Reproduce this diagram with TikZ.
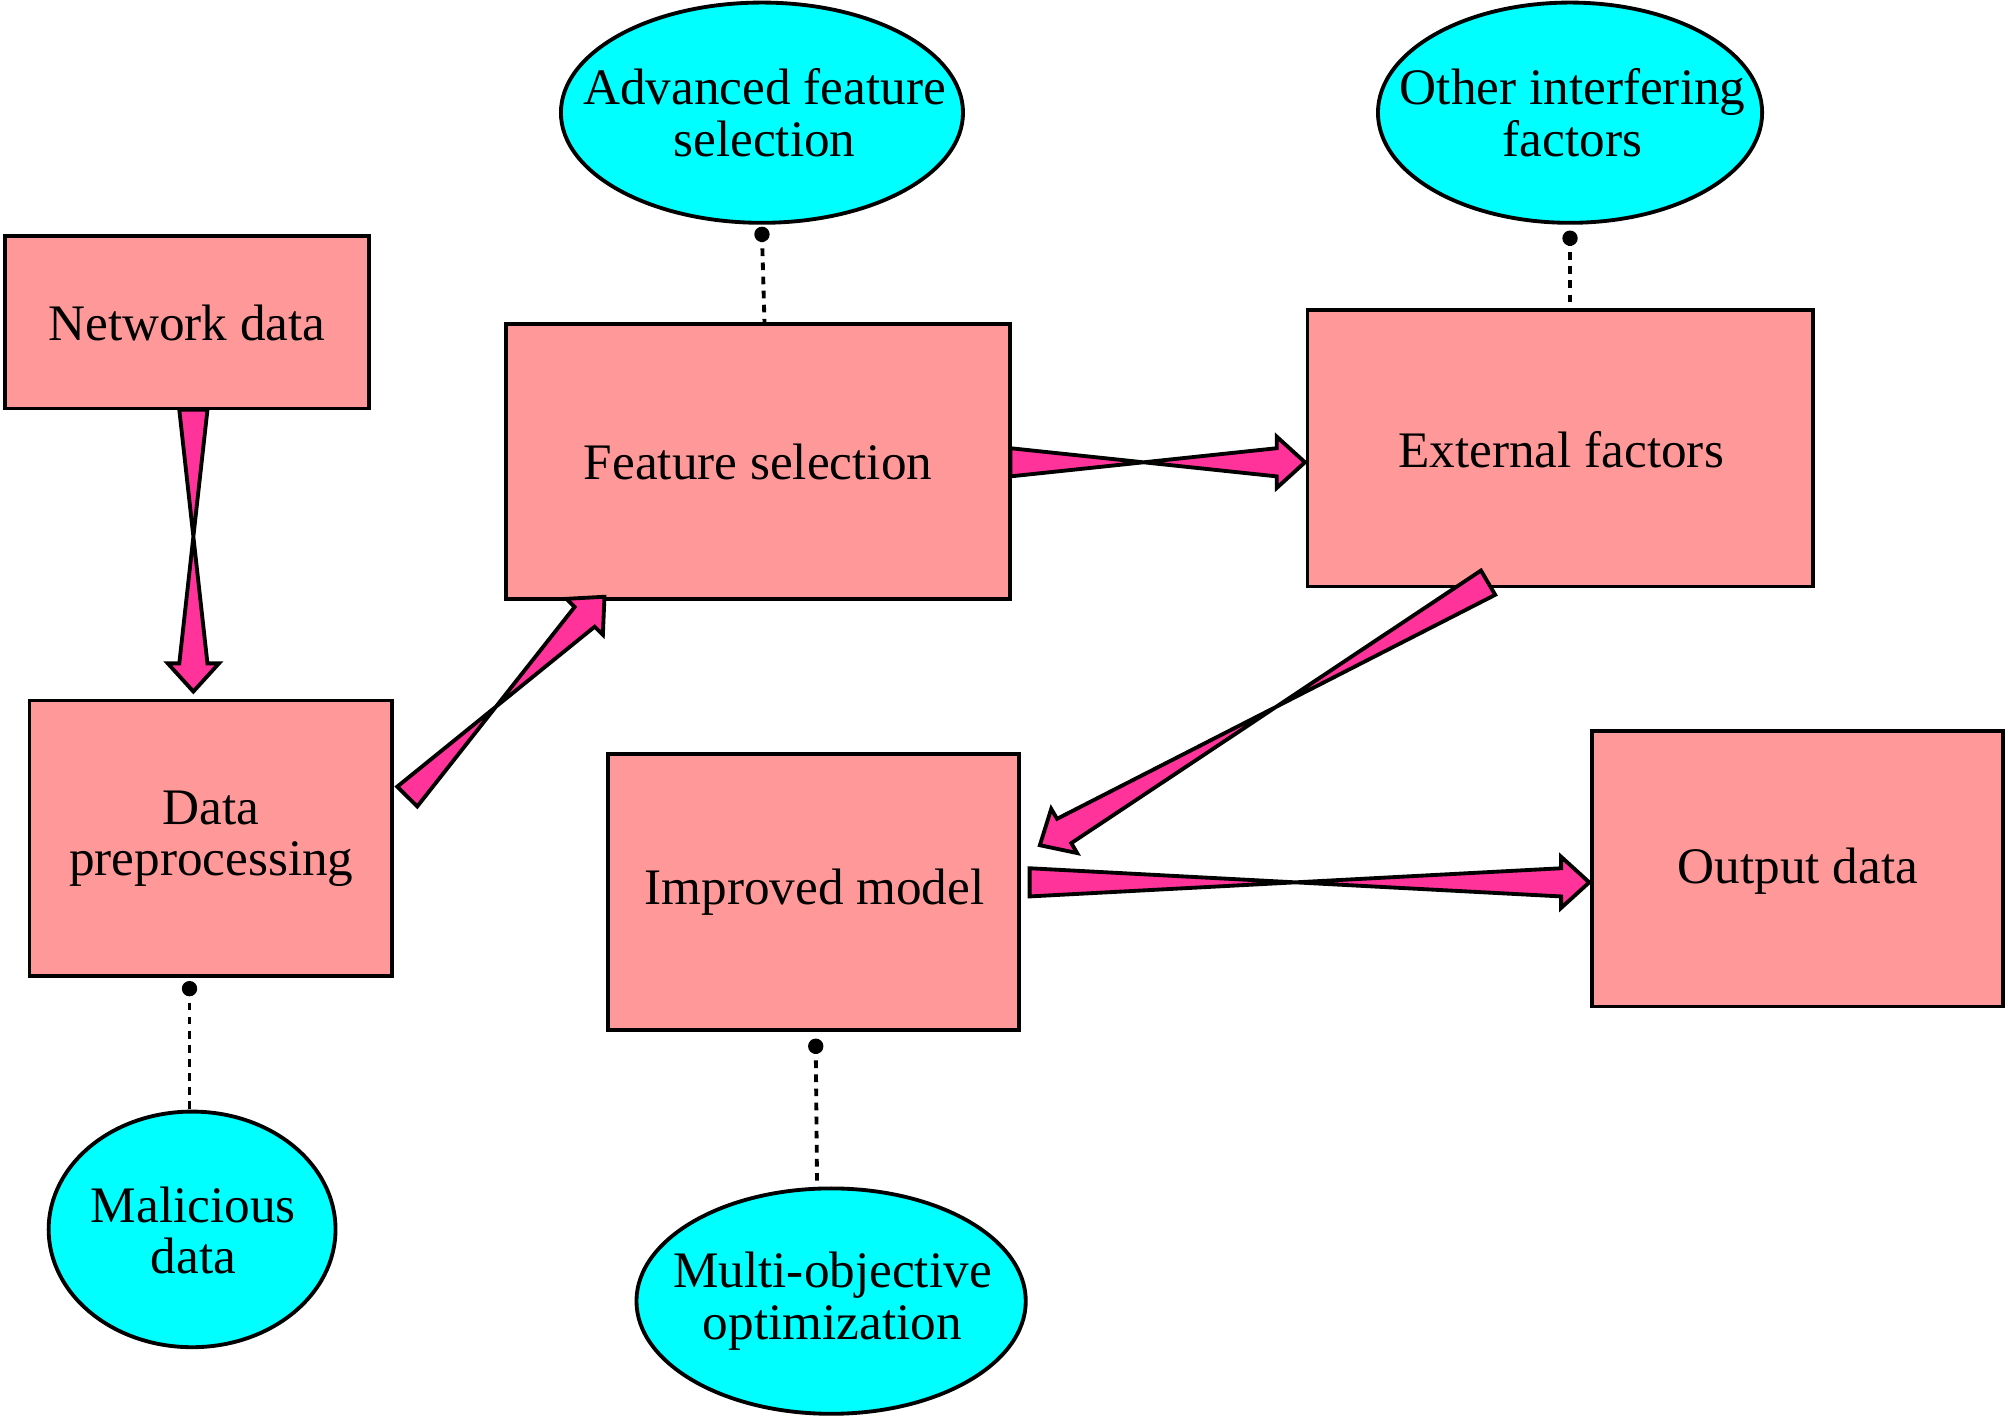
\documentclass[tikz,border=0pt]{standalone}
\usepackage{fontspec}
\setmainfont{Liberation Serif}
\usetikzlibrary{calc}
\definecolor{boxc}{HTML}{FF9999}
\definecolor{ellc}{HTML}{00FFFF}
\definecolor{arrc}{HTML}{FF3399}
\newcommand\fatarr[2]{%
 \path[draw=black,fill=arrc,line width=3pt,line join=miter]
  ($(#1)!11pt!90:(#2)$) -- ($($(#2)!22pt!(#1)$)!11pt!-90:(#2)$) --
  ($($(#2)!22pt!(#1)$)!20pt!-90:(#2)$) -- (#2) --
  ($($(#2)!22pt!(#1)$)!20pt!90:(#2)$) -- ($($(#2)!22pt!(#1)$)!11pt!90:(#2)$) --
  ($(#1)!11pt!-90:(#2)$) -- cycle;}
\begin{document}
\begin{tikzpicture}[x=1pt,y=-1pt,
 every node/.style={font=\fontsize{40}{46}\selectfont,align=center},
 box/.style={draw=black,fill=boxc,line width=3pt},
 ell/.style={draw=black,fill=ellc,line width=3pt},
 dotl/.style={line width=3pt,dash pattern=on 6pt off 5pt}]
\useasboundingbox (0,0) rectangle (1568,1107);
\draw[box] (4,184) rectangle (288,319); \node (nd) at (146,252) {Network data};
\draw[box] (23,547) rectangle (306,762); \node (dp) at (165,655) {Data\\[-6pt]preprocessing};
\draw[box] (395,253) rectangle (789,468); \node (fs) at (592,361) {Feature selection};
\draw[box] (1021,242) rectangle (1416,458); \node (ef) at (1219,351) {External factors};
\draw[box] (475,589) rectangle (796,804); \node (im) at (636,697) {Improved model};
\draw[box] (1243,571) rectangle (1564,786); \node (od) at (1404,680) {Output data};
\draw[ell] (595,88) ellipse [x radius=157,y radius=86];
\node (e1) at (597,88) {Advanced feature\\[-6pt]selection};
\draw[ell] (1226,88) ellipse [x radius=150,y radius=86];
\node (e2) at (1228,88) {Other interfering\\[-6pt]factors};
\draw[ell] (150,960) ellipse [x radius=112,y radius=92];
\node (e3) at (151,961) {Malicious\\[-6pt]data};
\draw[ell] (649,1016) ellipse [x radius=152,y radius=88];
\node (e4) at (650,1016) {Multi-objective\\[-6pt]optimization};
% dotted connectors
\coordinate (d1a) at (595,183); \coordinate (d1b) at (597,253);
\coordinate (d2a) at (1226,186); \coordinate (d2b) at (1226,242);
\coordinate (d3a) at (148,772); \coordinate (d3b) at (148,868);
\coordinate (d4a) at (637,817); \coordinate (d4b) at (638,925);
\foreach \a/\b in {d1a/d1b,d2a/d2b,d3a/d3b,d4a/d4b}{
 \draw[dotl] (\a) -- (\b); \fill (\a) circle (6pt);}
% fat arrows
\coordinate (a1) at (151,320); \coordinate (b1) at (151,540);
\coordinate (a2) at (318,622); \coordinate (b2) at (472,466);
\coordinate (a3) at (789,361); \coordinate (b3) at (1019,361);
\coordinate (a4) at (1162,455); \coordinate (b4) at (812,660);
\coordinate (a5) at (804,689); \coordinate (b5) at (1241,689);
\fatarr{a1}{b1}\fatarr{a2}{b2}\fatarr{a3}{b3}\fatarr{a4}{b4}\fatarr{a5}{b5}
\end{tikzpicture}
\end{document}
